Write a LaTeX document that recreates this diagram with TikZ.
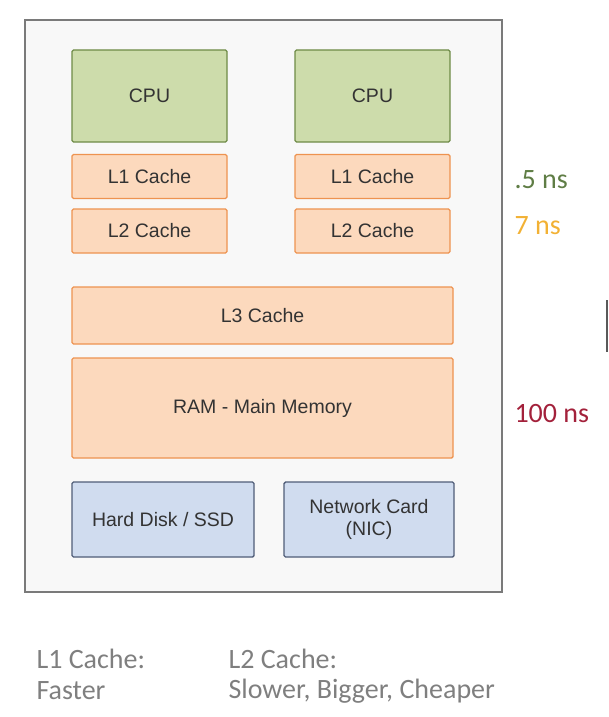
\documentclass[tikz,border=0pt]{standalone}
\usepackage{fontspec}
\setmainfont{Liberation Sans}
\newfontfamily\noteFont{Carlito}
\usepackage{tikz}

\definecolor{cpuFill}{HTML}{CDDCAB}
\definecolor{cpuLine}{HTML}{6E8B47}
\definecolor{cacheFill}{HTML}{FCD9BD}
\definecolor{cacheLine}{HTML}{EE9350}
\definecolor{diskFill}{HTML}{D0DCEF}
\definecolor{diskLine}{HTML}{505D78}
\definecolor{boxFill}{HTML}{F8F8F8}
\definecolor{boxLine}{HTML}{7A7A7A}
\definecolor{fastColor}{HTML}{5F7D45}
\definecolor{midColor}{HTML}{F2B134}
\definecolor{slowColor}{HTML}{A3213B}
\definecolor{noteColor}{HTML}{7F7F7F}

\begin{document}
\begin{tikzpicture}[x=1pt, y=-1pt,
        part/.style={draw, line width=1.4pt, rounded corners=1.5pt, font=\fontsize{19.5}{22}\selectfont, text=black!80, align=center, inner sep=0pt},
        cpu/.style={part, fill=cpuFill, draw=cpuLine, minimum width=155pt, minimum height=92pt},
        cache/.style={part, fill=cacheFill, draw=cacheLine, minimum height=44pt},
        disk/.style={part, fill=diskFill, draw=diskLine, minimum height=75pt},
        lat/.style={font=\noteFont\fontsize{28}{30}\selectfont, anchor=west},
        note/.style={font=\noteFont\fontsize{28}{30}\selectfont, text=noteColor, anchor=west}]
    \useasboundingbox (0,0) rectangle (609,717);

    % machine
    \draw [draw=boxLine, fill=boxFill, line width=2pt] (25,20) rectangle (502,592);

    \node [cpu] (cpuA) at (149.5,96) {CPU};
    \node [cpu] (cpuB) at (372.5,96) {CPU};

    \node [cache, minimum width=155pt] (lOneA) at (149.5,176.5) {L1 Cache};
    \node [cache, minimum width=155pt] (lOneB) at (372.5,176.5) {L1 Cache};
    \node [cache, minimum width=155pt] (lTwoA) at (149.5,231) {L2 Cache};
    \node [cache, minimum width=155pt] (lTwoB) at (372.5,231) {L2 Cache};

    \node [cache, minimum width=381pt, minimum height=57pt] (lThree) at (262.5,315.5) {L3 Cache};
    \node [cache, minimum width=381pt, minimum height=100pt] (ram) at (262.5,408) {RAM - Main Memory};

    \node [disk, minimum width=182pt] (hdd) at (163,519.5) {Hard Disk / SSD};
    \node [disk, minimum width=170pt] (nic) at (369,519.5) {Network Card\\(NIC)};

    % latencies
    \node [lat, text=fastColor] (latOne) at (511,180) {.5 ns};
    \node [lat, text=midColor] (latTwo) at (511,226) {7 ns};
    \node [lat, text=slowColor] (latRam) at (511,414) {100 ns};

    \draw [black!65, line width=1.5pt] (607,300) -- (607,352);

    % notes
    \node [note] (noteOne) at (33,659) {L1 Cache:};
    \node [note] (noteOneB) at (33,691) {Faster};
    \node [note] (noteTwo) at (225,659) {L2 Cache:};
    \node [note] (noteTwoB) at (225,691) {Slower, Bigger, Cheaper};
\end{tikzpicture}
\end{document}
